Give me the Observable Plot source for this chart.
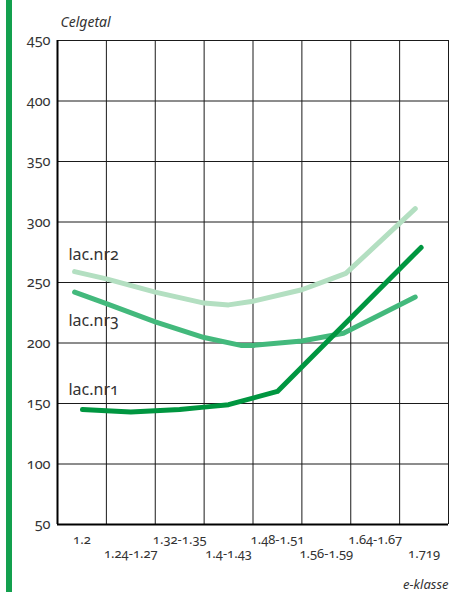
<!DOCTYPE html>
<html>
<head>
<meta charset="utf-8">
<script src="https://cdn.jsdelivr.net/npm/d3@7"></script>
<script src="https://cdn.jsdelivr.net/npm/@observablehq/plot@0.6"></script>
<style>
  html, body { margin: 0; padding: 0; background: #fff; }
  #wrap { position: relative; width: 461px; height: 592px; overflow: hidden; }
  #bar { position: absolute; left: 6px; top: 0; width: 6px; height: 592px; background: #13a04e; }
  #chart { position: absolute; left: 0; top: 0; }
  svg text { font-variant-numeric: oldstyle-nums !important; font-variant: oldstyle-nums !important; }
</style>
</head>
<body>
<div id="wrap"><div id="bar"></div><div id="chart"></div></div>
<script>
// Classes (column index positions 0..7, labels centered in each column)
const classLabels = ["1.2", "1.24-1.27", "1.32-1.35", "1.4-1.43", "1.48-1.51", "1.56-1.59", "1.64-1.67", "1.719"];
const yTicks = [50, 100, 150, 200, 250, 300, 350, 400, 450];

// Series: x in class units (0 = left edge of first column), y = celgetal
const nr1X = [0.51, 1, 1.5, 2, 2.5, 3, 3.5, 4.5, 7.44];
const nr1Y = [145, 144, 143, 144, 145, 147, 149, 160, 279];
const nr2X = [0.35, 1, 2, 3, 3.5, 4, 5, 5.6, 5.9, 7.32];
const nr2Y = [259, 253, 242, 233, 231.5, 234.5, 244, 253, 257.5, 311];
const nr3X = [0.35, 1, 2, 3, 3.75, 4, 5, 5.85, 7.32];
const nr3Y = [242, 232.5, 217.5, 204.5, 198, 198, 201.7, 208, 238];

const mk = (xs, ys) => xs.map((x, i) => ({x, y: ys[i]}));
const s1 = mk(nr1X, nr1Y), s2 = mk(nr2X, nr2Y), s3 = mk(nr3X, nr3Y);

const font = "'Noto Sans', 'Open Sans', sans-serif";
const cols = d3.range(0, 9);
const labelData = classLabels.map((t, i) => ({t, x: i + 0.5, row: i % 2}));

const chart = Plot.plot({
  width: 461,
  height: 592,
  marginLeft: 57,
  marginRight: 13,
  marginTop: 40,
  marginBottom: 68,
  style: {fontFamily: font, background: "transparent", overflow: "visible"},
  x: {domain: [0, 8], axis: null},
  y: {domain: [50, 450]},
  marks: [
    Plot.ruleX(cols, {stroke: "#1a1a1a", strokeWidth: 1}),
    Plot.ruleY(yTicks, {stroke: "#1a1a1a", strokeWidth: 1}),
    Plot.ruleX([0], {stroke: "#000", strokeWidth: 2}),
    Plot.ruleY([50], {stroke: "#000", strokeWidth: 2}),
    Plot.axisY({ticks: yTicks, tickSize: 0, tickPadding: 7, fontSize: 14.5, fontVariant: "oldstyle-nums", fill: "#333", label: null}),
    Plot.line(s2, {x: "x", y: "y", stroke: "#b3dfc1", strokeWidth: 5, strokeLinecap: "round", strokeLinejoin: "round"}),
    Plot.line(s3, {x: "x", y: "y", stroke: "#43b97c", strokeWidth: 5, strokeLinecap: "round", strokeLinejoin: "round"}),
    Plot.line(s1, {x: "x", y: "y", stroke: "#009640", strokeWidth: 5, strokeLinecap: "round", strokeLinejoin: "round"}),
    Plot.text(["lac.nr2"], {x: 0.225, y: 268.5, text: d => d, textAnchor: "start", lineAnchor: "bottom", fontSize: 16, fill: "#333"}),
    Plot.text(["lac.nr3"], {x: 0.225, y: 214, text: d => d, textAnchor: "start", lineAnchor: "bottom", fontSize: 16, fill: "#333"}),
    Plot.text(["lac.nr1"], {x: 0.225, y: 157, text: d => d, textAnchor: "start", lineAnchor: "bottom", fontSize: 16, fill: "#333"}),
    Plot.text(labelData.filter(d => d.row === 0), {x: "x", text: "t", frameAnchor: "bottom", dy: 15, lineAnchor: "middle", fontSize: 13, fontVariant: "oldstyle-nums", fill: "#333"}),
    Plot.text(labelData.filter(d => d.row === 1), {x: "x", text: "t", frameAnchor: "bottom", dy: 29, lineAnchor: "middle", fontSize: 13, fontVariant: "oldstyle-nums", fill: "#333"}),
    Plot.text(["Celgetal"], {frameAnchor: "top-left", dx: 3, dy: -14, lineAnchor: "bottom", textAnchor: "start", text: d => d, fontSize: 14, fontStyle: "italic", fill: "#333"}),
    Plot.text(["e-klasse"], {frameAnchor: "bottom-right", dy: 64, lineAnchor: "bottom", textAnchor: "end", text: d => d, fontSize: 13, fontStyle: "italic", fill: "#333"})
  ]
});
document.getElementById("chart").appendChild(chart);
</script>
</body>
</html>
